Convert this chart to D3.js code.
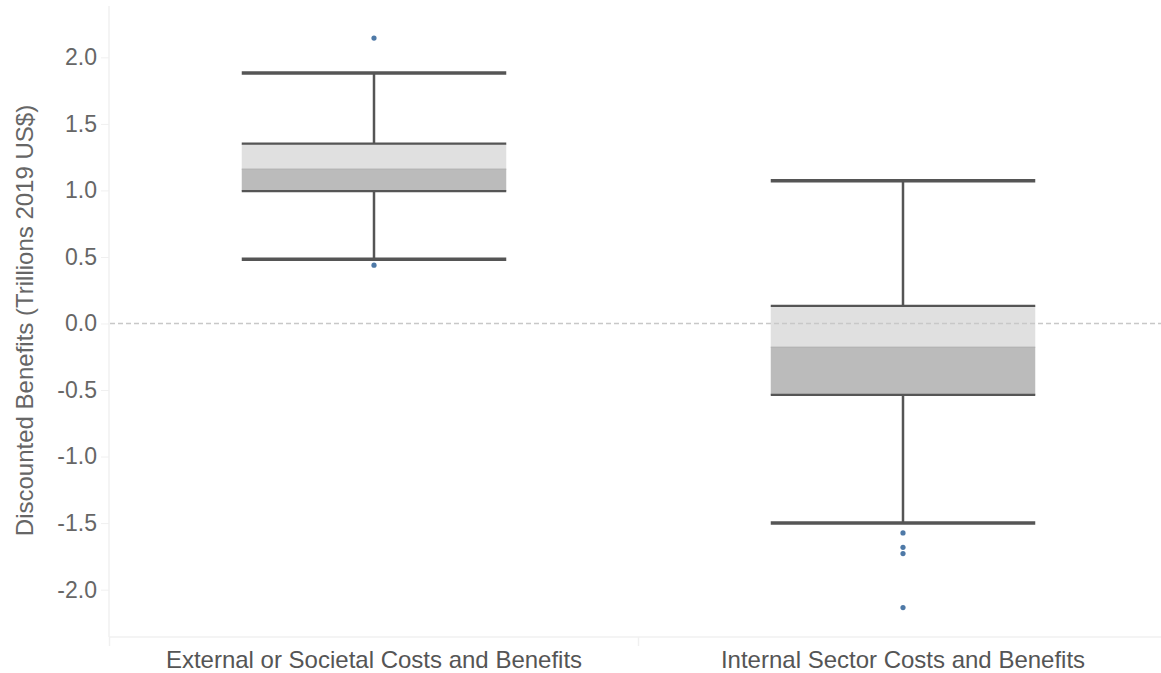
<!DOCTYPE html>
<html>
<head>
<meta charset="utf-8">
<script src="https://cdn.jsdelivr.net/npm/d3@7"></script>
<style>
  body { margin: 0; background: #fff; }
  svg { display: block; font-family: "Liberation Sans", Arial, sans-serif; }
</style>
</head>
<body>
<svg id="chart" width="1161" height="673"></svg>
<script>
// Data
var categories = ["External or Societal Costs and Benefits", "Internal Sector Costs and Benefits"];
var whiskerLow = [0.483, -1.5];
var q1 = [0.995, -0.537];
var median = [1.16, -0.178];
var q3 = [1.352, 0.132];
var whiskerHigh = [1.882, 1.072];
var outliers = [[2.145, 0.438], [-1.574, -1.682, -1.729, -2.135]];
var yTicks = [-2.0, -1.5, -1.0, -0.5, 0.0, 0.5, 1.0, 1.5, 2.0];

var width = 1161,
  height = 673;

var svg = d3.select("#chart");

var y = d3.scaleLinear().domain([-2.356, 2.386]).range([637, 6]);
var x = d3.scaleBand().domain(categories).range([109.5, 1167.5]).padding(0);

var boxes = categories.map(function (c, i) {
  return {
    cat: c,
    lo: whiskerLow[i],
    q1: q1[i],
    med: median[i],
    q3: q3[i],
    hi: whiskerHigh[i],
    out: outliers[i]
  };
});

// plain hyphen for negatives, like the original
var fmt = (d) => d.toFixed(1);

// Axes (light Tableau style)
var yAxis = svg
  .append("g")
  .attr("transform", "translate(109,0)")
  .call(d3.axisLeft(y).tickValues(yTicks).tickFormat(fmt).tickSize(8).tickPadding(4));
yAxis.select(".domain").attr("stroke", "#f0f0f0").attr("stroke-width", 1.5).attr("d", "M0,6V637");
yAxis.selectAll(".tick line").attr("stroke", "#f0f0f0");
yAxis
  .selectAll(".tick text")
  .attr("fill", "#666")
  .style("font-size", "23px");

var xAxis = svg
  .append("g")
  .attr("transform", "translate(0,637)")
  .call(d3.axisBottom(x).tickSize(0).tickPadding(14));
xAxis.select(".domain").attr("stroke", "#f0f0f0").attr("stroke-width", 1.5).attr("d", "M109,0H1161");
xAxis
  .selectAll(".tick text")
  .attr("fill", "#555")
  .style("font-size", "24px");

// dividers below the x axis
svg
  .selectAll(".divider")
  .data([x.range()[0], x(categories[1])])
  .enter()
  .append("line")
  .attr("class", "divider")
  .attr("x1", (d) => d)
  .attr("x2", (d) => d)
  .attr("y1", 637)
  .attr("y2", 646)
  .attr("stroke", "#f0f0f0")
  .attr("stroke-width", 1.5);

// Y title
svg
  .append("text")
  .attr("transform", "translate(24," + (y(0) - 3) + ") rotate(-90)")
  .attr("text-anchor", "middle")
  .attr("dominant-baseline", "central")
  .attr("fill", "#666")
  .style("font-size", "24px")
  .text("Discounted Benefits (Trillions 2019 US$)");

var bw = x.bandwidth() / 2;

var g = svg
  .selectAll(".box")
  .data(boxes)
  .enter()
  .append("g")
  .attr("class", "box")
  .attr("transform", (d) => "translate(" + (x(d.cat) + x.bandwidth() / 2) + ",0)");

// upper half of box
g.append("rect")
  .attr("x", -bw / 2)
  .attr("width", bw)
  .attr("y", (d) => y(d.q3))
  .attr("height", (d) => y(d.med) - y(d.q3))
  .attr("fill", "#e0e0e0");

// lower half of box
g.append("rect")
  .attr("x", -bw / 2)
  .attr("width", bw)
  .attr("y", (d) => y(d.med))
  .attr("height", (d) => y(d.q1) - y(d.med))
  .attr("fill", "#bbbbbb");

// median
g.append("line")
  .attr("x1", -bw / 2)
  .attr("x2", bw / 2)
  .attr("y1", (d) => y(d.med))
  .attr("y2", (d) => y(d.med))
  .attr("stroke", "#adadad")
  .attr("stroke-width", 1);

// Zero reference line
svg
  .append("line")
  .attr("x1", 110)
  .attr("x2", width)
  .attr("y1", y(0))
  .attr("y2", y(0))
  .attr("stroke", "#c8c8c8")
  .attr("stroke-width", 1.5)
  .attr("stroke-dasharray", "5,3");

// whiskers
g.append("line")
  .attr("x1", 0)
  .attr("x2", 0)
  .attr("y1", (d) => y(d.hi))
  .attr("y2", (d) => y(d.q3))
  .attr("stroke", "#555")
  .attr("stroke-width", 2.5);
g.append("line")
  .attr("x1", 0)
  .attr("x2", 0)
  .attr("y1", (d) => y(d.q1))
  .attr("y2", (d) => y(d.lo))
  .attr("stroke", "#555")
  .attr("stroke-width", 2.5);

// box edges
["q1", "q3"].forEach(function (k) {
  g.append("line")
    .attr("x1", -bw / 2)
    .attr("x2", bw / 2)
    .attr("y1", (d) => y(d[k]))
    .attr("y2", (d) => y(d[k]))
    .attr("stroke", "#555")
    .attr("stroke-width", 2.2);
});

// whisker caps
["lo", "hi"].forEach(function (k) {
  g.append("line")
    .attr("x1", -bw / 2)
    .attr("x2", bw / 2)
    .attr("y1", (d) => y(d[k]))
    .attr("y2", (d) => y(d[k]))
    .attr("stroke", "#555")
    .attr("stroke-width", 3.5);
});

// outliers
g.selectAll(".out")
  .data((d) => d.out)
  .enter()
  .append("circle")
  .attr("class", "out")
  .attr("cx", 0)
  .attr("cy", (d) => y(d))
  .attr("r", 2.6)
  .attr("fill", "#4e79a7");
</script>
</body>
</html>
